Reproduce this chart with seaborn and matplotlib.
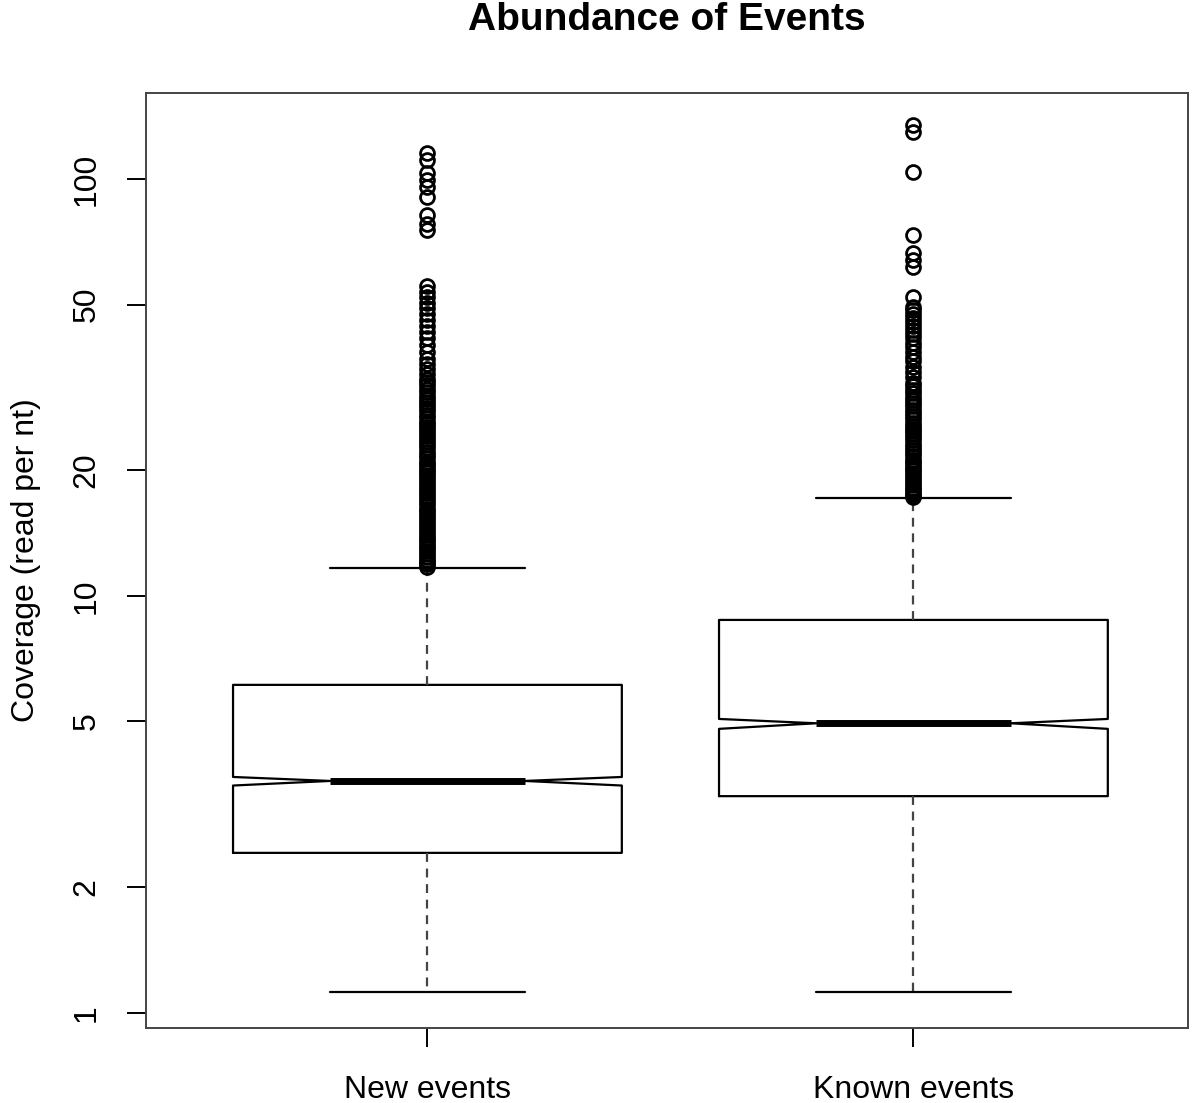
import matplotlib
matplotlib.use("Agg")
import matplotlib.pyplot as plt
import seaborn as sns
from matplotlib.ticker import FixedLocator, NullLocator, FixedFormatter

sns.set_style("white")
plt.rcParams['font.family'] = ['Liberation Sans', 'DejaVu Sans']
plt.rcParams['text.color'] = 'black'
plt.rcParams['axes.labelcolor'] = 'black'
plt.rcParams['xtick.color'] = 'black'
plt.rcParams['ytick.color'] = 'black'

# Data (coverage, reads per nt)
groups = ['New events', 'Known events']
q1 = [2.42, 3.31]
medians = [3.60, 4.95]
q3 = [6.12, 8.76]
whisker_low = [1.12, 1.12]
whisker_high = [11.7, 17.2]
notch_low = [3.51, 4.80]
notch_high = [3.68, 5.07]

new_outliers = [11.75, 11.9, 12.05, 12.2, 12.4, 12.6, 12.8, 13.0, 13.2, 13.4,
                13.6, 13.8, 14.0, 14.2, 14.45, 14.7, 14.95, 15.2, 15.45, 15.7,
                15.95, 16.2, 16.5, 16.8, 17.1, 17.4, 17.7, 18.0, 18.3, 18.6,
                18.9, 19.2, 19.5, 19.8, 20.1, 20.4, 20.7, 21.0, 21.4, 21.8,
                22.2, 22.6, 23.0, 23.4, 23.8, 24.2, 24.6, 25.0, 25.4, 25.8,
                26.2, 26.7, 27.2, 27.7, 28.2, 28.7, 29.2, 29.7, 30.2, 30.8,
                31.4, 32.0, 32.6, 33.2,
                34, 35, 36, 37, 38.5, 40, 41.5, 43, 44.5, 46, 47.5, 49,
                50.5, 52, 53.5, 55.4,
                75.5, 78, 82, 90.5, 95.7, 99.5, 103.4, 111, 115.5]
known_outliers = [17.3, 17.45, 17.7, 17.95, 18.2, 18.5, 18.8, 19.1, 19.4, 19.7,
                  20.0, 20.3, 20.6, 20.9, 21.2, 21.6, 22.0, 22.4, 22.8, 23.2,
                  23.6, 24.0, 24.4, 24.8, 25.2, 25.6, 26.0, 26.5, 27.0, 27.5,
                  28.0, 28.5, 29.0, 29.5, 30.0, 30.6, 31.2, 31.8, 32.4,
                  33.5, 34.5, 35.5, 36.5, 37.5, 38.5, 39.5, 40.5, 41.5, 42.5,
                  43.5, 44.5, 45.5, 46.5, 47.5, 48.5, 49.3,
                  52.1, 61.5, 64, 66.4, 73.4, 104, 129.6, 134.6]
outliers = [new_outliers, known_outliers]

yticks = [1, 2, 5, 10, 20, 50, 100]

stats = []
for i, name in enumerate(groups):
    stats.append({'label': name, 'med': medians[i], 'q1': q1[i], 'q3': q3[i],
                  'whislo': whisker_low[i], 'whishi': whisker_high[i],
                  'cilo': notch_low[i], 'cihi': notch_high[i],
                  'fliers': outliers[i]})

fig = plt.figure(figsize=(12, 11.03), dpi=100)
ax = fig.add_axes([0.1217, 0.068, 0.8683, 0.8477])

ax.bxp(stats, positions=[1, 2], widths=0.8, shownotches=True, showfliers=True,
       boxprops=dict(color='black', linewidth=1.6),
       whiskerprops=dict(color='#444444', linewidth=1.6, linestyle=(0, (4, 3))),
       capprops=dict(color='black', linewidth=1.6),
       medianprops=dict(color='black', linewidth=5, solid_capstyle='butt'),
       flierprops=dict(marker='o', markerfacecolor='none', markeredgecolor='black',
                       markersize=10, markeredgewidth=2.0, linestyle='none'))

ax.set_yscale('log')
ax.set_ylim(0.92, 160.8)
ax.set_xlim(0.421, 2.565)
ax.yaxis.set_major_locator(FixedLocator(yticks))
ax.yaxis.set_major_formatter(FixedFormatter([str(t) for t in yticks]))
ax.yaxis.set_minor_locator(NullLocator())
ax.set_xticks([1, 2])
ax.set_xticklabels(groups)

ax.tick_params(axis='both', direction='out', length=14, width=1.4, color='black',
               labelsize=23, left=True, bottom=True)
ax.tick_params(axis='y', pad=18)
ax.tick_params(axis='x', pad=20)
for lbl in ax.get_yticklabels():
    lbl.set_rotation(90)
    lbl.set_va('center')

for sp in ax.spines.values():
    sp.set_visible(True)
    sp.set_color('#444444')
    sp.set_linewidth(1.4)

ax.set_ylabel('Coverage (read per nt)', fontsize=23, labelpad=22)
ax.set_title('Abundance of Events', fontsize=28, fontweight='bold', pad=45)

fig.savefig('out.png', dpi=100)
